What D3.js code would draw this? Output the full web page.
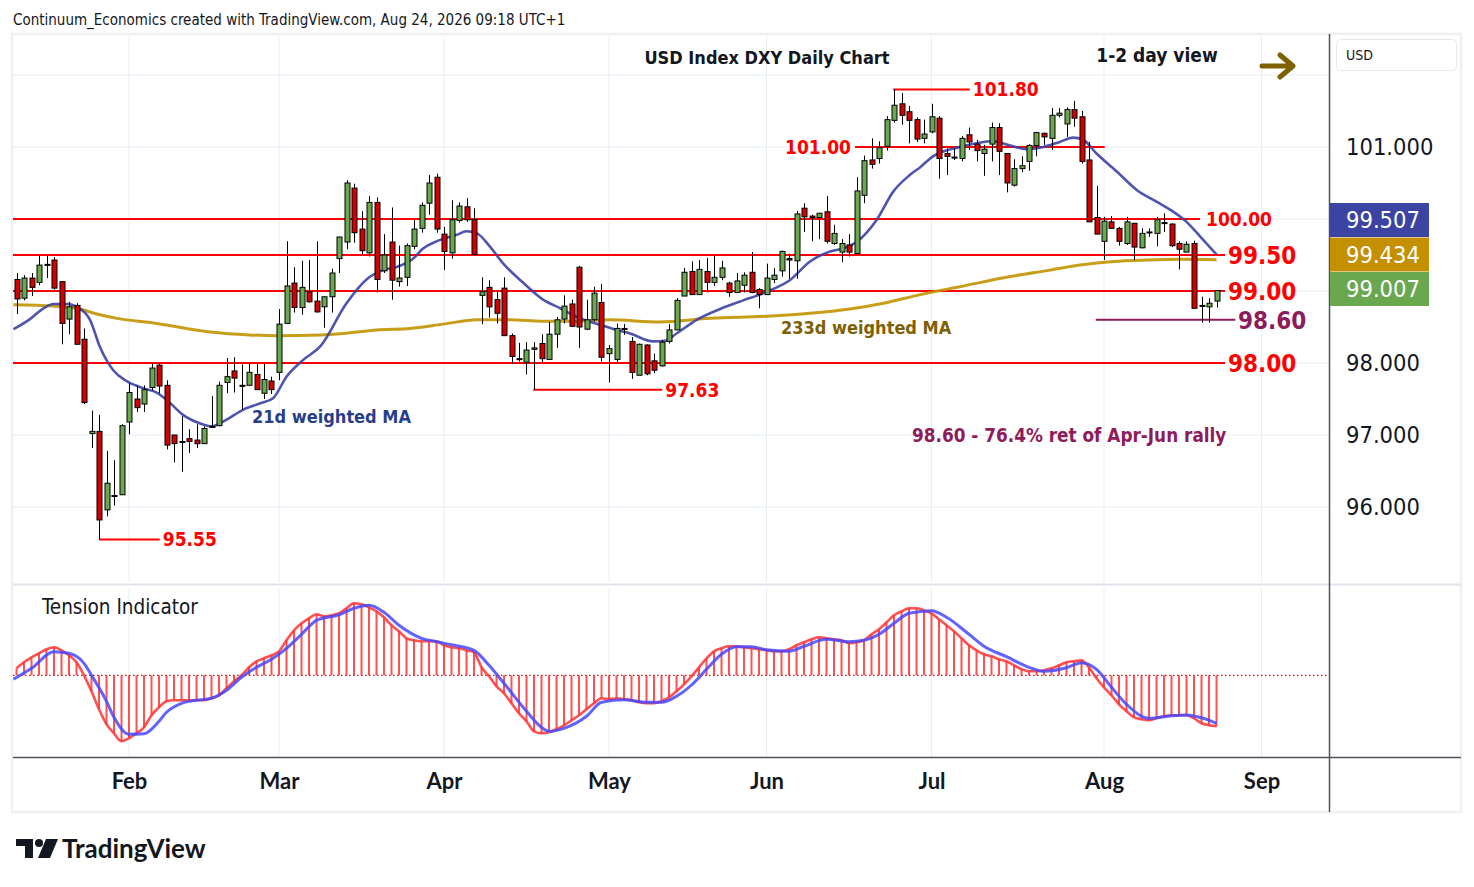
<!DOCTYPE html>
<html><head><meta charset="utf-8">
<script src="https://cdn.jsdelivr.net/npm/d3@7"></script>
<style>
html,body{margin:0;padding:0;background:#fff;}
svg{display:block;font-family:"DejaVu Sans Condensed","DejaVu Sans",sans-serif;}
</style>
</head><body>
<svg id="chart" width="1474" height="887"></svg>
<script>
// ---------- DATA ----------
// one bar per trading day, from Mon 12 Jan 2026 (bar 0) to Mon 24 Aug 2026 (bar 160)
const opens=[99.16,98.90,99.18,99.12,99.36,99.43,99.13,98.61,98.80,98.33,
97.02,97.05,95.96,96.16,96.17,97.18,97.50,97.43,97.66,97.97,
97.69,97.00,96.91,96.95,96.93,96.88,97.11,97.13,97.73,97.89,
97.69,97.69,97.84,97.58,97.75,97.87,98.55,99.11,98.77,98.99,
98.86,98.78,98.92,99.45,99.68,100.43,99.86,99.53,100.23,99.28,
99.68,99.13,99.19,99.62,99.87,100.22,100.58,99.79,99.53,99.98,
100.17,99.99,98.94,99.05,98.88,99.04,98.38,98.06,98.01,98.19,
98.27,98.05,98.40,98.61,98.82,99.33,98.47,98.60,98.84,98.13,
98.05,98.48,98.30,97.83,98.25,98.03,97.96,98.30,98.46,98.93,
99.27,98.95,99.27,99.12,99.19,99.11,98.98,99.08,99.26,99.02,
98.95,99.16,99.28,99.45,99.42,100.15,100.04,100.02,100.10,99.66,
99.54,99.64,99.52,100.33,100.82,100.84,101.01,101.37,101.60,101.49,
101.38,101.12,101.21,101.40,100.91,100.86,100.84,101.17,101.04,100.91,
101.04,101.27,100.91,100.47,100.70,100.80,101.02,101.19,101.12,101.44,
101.32,101.52,101.42,100.82,100.02,99.69,99.96,99.87,99.66,99.94,
99.60,99.82,99.80,99.95,99.93,99.66,99.54,99.66,98.80,98.78,
98.86];
const highs=[99.25,99.22,99.25,99.49,99.49,99.47,99.14,98.85,98.83,98.48,
97.34,97.28,96.78,96.65,97.15,97.72,97.69,97.69,98.00,98.00,
97.76,97.00,97.26,97.08,97.15,97.12,97.54,97.74,98.07,98.08,
97.98,98.00,97.99,97.99,97.81,98.75,99.69,99.33,99.42,99.43,
99.69,98.92,99.31,99.75,100.54,100.49,100.11,100.32,100.30,99.79,
100.16,99.63,99.66,99.99,100.23,100.61,100.63,99.89,100.26,100.23,
100.29,100.15,99.19,99.15,98.99,99.19,98.41,98.28,98.29,98.29,
98.40,98.57,98.64,98.94,98.88,99.35,98.88,99.06,99.10,98.25,
98.55,98.54,98.36,98.27,98.26,98.13,98.32,98.54,98.90,99.32,
99.41,99.43,99.46,99.49,99.42,99.13,99.25,99.26,99.54,99.04,
99.38,99.32,99.56,99.52,100.11,100.22,100.06,100.08,100.32,99.92,
99.72,99.79,100.58,100.88,101.12,101.08,101.43,101.80,101.75,101.57,
101.41,101.38,101.60,101.43,100.98,100.98,101.15,101.27,101.10,101.03,
101.34,101.33,100.91,100.83,100.87,101.04,101.21,101.20,101.54,101.54,
101.55,101.64,101.50,101.07,100.46,100.03,100.04,99.89,100.03,99.94,
99.87,99.87,100.03,100.08,99.94,99.69,99.69,99.70,98.92,98.90,
99.01];
const lows=[98.68,98.87,98.93,99.08,99.18,99.02,98.26,98.40,98.26,97.43,
96.82,95.55,95.87,96.02,96.17,97.01,97.32,97.32,97.62,97.58,
96.80,96.62,96.49,96.75,96.82,96.88,97.10,97.12,97.58,97.59,
97.35,97.69,97.63,97.50,97.57,97.76,98.55,98.70,98.67,98.84,
98.70,98.49,98.70,99.25,99.58,99.67,99.51,99.48,98.98,99.25,
98.88,99.06,99.07,99.58,99.81,100.06,99.81,99.29,99.45,99.95,
99.96,99.51,98.54,98.63,98.55,98.38,97.99,98.02,97.84,97.63,
98.01,98.05,98.21,98.55,98.50,98.21,98.46,98.58,98.02,97.73,
97.99,98.39,97.78,97.83,97.83,97.86,97.95,98.27,98.46,98.93,
98.95,98.95,98.98,99.07,99.15,98.92,98.98,98.98,98.97,98.76,
98.95,99.11,99.20,99.17,99.17,99.82,99.69,99.72,99.66,99.64,
99.40,99.48,99.52,100.22,100.70,100.77,100.95,101.34,101.31,101.05,
101.07,101.05,101.19,100.56,100.61,100.82,100.80,100.96,100.80,100.60,
100.80,100.61,100.37,100.45,100.65,100.67,100.87,101.03,100.96,101.41,
101.14,101.28,100.77,99.96,99.79,99.43,99.87,99.63,99.64,99.43,
99.59,99.75,99.62,99.82,99.61,99.30,99.54,98.76,98.56,98.56,
98.77];
const closes=[98.89,99.18,99.05,99.36,99.37,99.04,98.55,98.78,98.26,97.45,
97.05,95.82,96.33,96.15,97.13,97.59,97.38,97.63,97.93,97.68,
96.86,96.88,96.91,96.91,96.88,97.09,97.12,97.69,97.81,97.79,
97.69,97.87,97.63,97.77,97.63,98.54,99.07,98.77,99.05,98.85,
98.71,98.92,99.25,99.75,100.50,99.81,99.56,100.23,99.16,99.50,
99.15,99.18,99.63,99.86,100.19,100.50,99.86,99.55,99.99,100.18,
99.99,99.51,98.99,98.78,98.69,98.38,98.09,98.05,98.18,98.21,
98.06,98.40,98.60,98.79,98.51,98.50,98.60,98.97,98.08,98.20,
98.48,98.47,97.87,98.26,97.85,97.90,98.29,98.46,98.87,99.26,
98.95,99.30,99.12,99.19,99.32,98.98,99.14,99.22,98.98,98.95,
99.18,99.22,99.55,99.43,100.07,100.03,100.02,100.08,99.69,99.80,
99.66,99.54,100.39,100.81,100.76,100.99,101.38,101.58,101.44,101.37,
101.11,101.18,101.42,100.84,100.87,100.86,101.12,101.07,100.95,100.97,
101.27,100.94,100.50,100.70,100.74,101.02,101.20,101.14,101.44,101.47,
101.52,101.40,100.80,99.96,99.79,99.97,99.87,99.69,99.96,99.61,
99.80,99.82,99.99,99.95,99.63,99.58,99.65,98.76,98.80,98.83,
99.007];

// 21d weighted MA (bar index, value)
const ma21Idx=[-0.4,1.8,3.6,4.9,6.9,8,9.8,11.1,12.9,14.5,16.9,18.7,20,22.2,24.5,26,27.6,30.2,32.5,34.2,36,38.2,40.5,
44,46.9,48.9,50.9,52.9,54.2,56,58.7,60,61.4,63.1,64.9,67.6,70.2,72.5,74.7,77.8,80,
81.8,84.9,86.5,88,90.7,93.8,96.9,99.1,100.5,103.1,105.8,108.5,110.2,112,114.7,116.9,119.1,120.5,
122.2,125.8,130.2,132.5,134.7,136.9,139.1,140.9,142.2,144,146.7,149.4,152,153.8,156,157.8,160];
const ma21Val=[98.47,98.61,98.76,98.82,98.82,98.78,98.60,98.23,97.90,97.76,97.65,97.59,97.49,97.28,97.16,97.12,97.19,97.35,97.44,97.51,97.81,98.04,98.23,
98.83,99.18,99.29,99.34,99.45,99.59,99.69,99.78,99.83,99.80,99.62,99.38,99.11,98.88,98.76,98.64,98.53,98.46,
98.41,98.30,98.31,98.41,98.60,98.75,98.87,98.95,99.01,99.15,99.41,99.55,99.59,99.68,99.99,100.38,100.61,100.72,
100.87,101.00,101.08,101.02,100.97,101.00,101.07,101.13,101.10,100.91,100.66,100.40,100.24,100.13,99.96,99.76,99.507];

// 233d weighted MA (bar index, value)
const ma233Idx=[-0.4,4.9,8,10.7,13.4,18.7,25.8,31.1,34.7,40.5,43.6,48,52.5,56.9,61.4,65.8,70.2,74.7,79.1,85.8,92.5,100,105.8,111.1,115.6,120.5,125.8,132.5,137.8,141.8,146.3,150.7,155.1,160];
const ma233Val=[98.81,98.79,98.76,98.68,98.62,98.55,98.43,98.39,98.38,98.39,98.41,98.46,98.48,98.54,98.60,98.60,98.58,98.58,98.60,98.57,98.62,98.65,98.69,98.75,98.83,98.95,99.06,99.20,99.29,99.36,99.41,99.43,99.44,99.434];

// Tension indicator: fast line (one value per bar) and signal line (bar index, value)
const tensionFast=[0.7,1.3,1.8,2.2,2.6,2.8,2.5,2.0,1.3,0.0,
-1.6,-3.4,-4.9,-5.8,-6.6,-6.3,-5.8,-5.2,-4.0,-3.2,
-2.6,-2.5,-2.5,-2.5,-2.5,-2.5,-2.3,-2.0,-1.3,-0.6,
0.0,0.8,1.4,1.7,2.0,2.4,3.5,4.5,5.2,5.7,
6.1,5.9,6.0,6.2,6.7,7.2,7.1,6.8,6.4,5.8,
5.0,4.4,3.7,3.5,3.4,3.4,3.4,3.0,2.8,2.7,
2.5,2.3,0.8,-0.1,-1.1,-1.8,-2.8,-3.8,-4.6,-5.6,
-5.8,-5.7,-5.4,-5.0,-4.5,-4.0,-3.4,-2.8,-2.3,-2.4,
-2.3,-2.4,-2.5,-2.7,-2.8,-2.8,-2.6,-2.2,-1.6,-0.9,
-0.1,0.8,1.7,2.4,2.7,2.9,2.9,2.8,2.7,2.6,
2.5,2.4,2.4,2.6,3.0,3.3,3.6,3.8,3.7,3.6,
3.5,3.2,3.3,3.5,4.1,4.6,5.3,6.0,6.4,6.7,
6.7,6.5,6.2,5.6,5.0,4.4,3.7,3.0,2.5,2.1,
1.9,1.6,1.4,1.0,0.6,0.4,0.4,0.5,0.7,1.0,
1.3,1.4,1.5,0.8,-0.3,-1.2,-2.0,-2.9,-3.6,-4.2,
-4.4,-4.5,-4.3,-4.1,-4.0,-4.0,-4.0,-4.3,-4.8,-5.0,
-5.1];
const tensionSigIdx=[-0.4,2,5,7,9,10,12,13,15,17,19,20,22,24,26,28,30,32,34,36,38,40,43,45,47,49,51,54,56,58,61,63,65,68,70,71,73,76,78,81,84,86,88,90,92,94,96,98,100,103,105,108,111,113,115,117,119,122,124,127,129,132,135,137,140,142,144,146,148,151,154,156,158,160];
const tensionSigVal=[-0.4,0.7,2.36,2.2,1.2,0.0,-2.6,-4.2,-5.9,-5.85,-4.6,-3.7,-2.8,-2.5,-2.3,-1.5,-0.2,0.8,1.6,2.7,4.1,5.5,6.05,6.7,7.0,6.3,5.0,3.7,3.36,3.05,2.5,1.0,-0.8,-3.6,-5.2,-5.6,-5.3,-4.1,-2.7,-2.45,-2.7,-2.7,-2.1,-0.97,0.6,2.1,2.85,2.86,2.55,2.4,2.9,3.6,3.36,3.5,4.1,5.2,6.2,6.46,5.8,4.1,2.9,1.86,0.8,0.4,0.75,1.26,0.6,-1.2,-2.9,-4.3,-4.05,-3.97,-4.25,-4.8];

// Axis ticks
const monthLabels=["Feb","Mar","Apr","May","Jun","Jul","Aug","Sep"];
const monthIdx=[15,35,57,79,100,122,145,166];
const gridPrices=[96,97,98,99,100,101,102];
const priceTicks=[96,97,98,101];   // the 99 / 100 labels sit under the last-value tags
// Support / resistance levels
const levelValues=[100.00,99.50,99.00,98.00];
const levelLabels=["100.00","99.50","99.00","98.00"];

// ---------- DRAWING ----------
const svg=d3.select("#chart");
const L=13, R=1329, MT=36, MB=582, TT=588, TB=757;
const x=d3.scaleLinear().domain([0,160]).range([16.5,1216.5]);
const y=d3.scaleLinear().domain([96,101]).range([507,147]);
const ty=d3.scaleLinear().domain([-8,8]).range([755.3,595.3]);

// frame
svg.append("rect").attr("x",12).attr("y",34).attr("width",1449).attr("height",778)
  .attr("fill","none").attr("stroke","#f0f0f0").attr("stroke-width",2.5);

const defs=svg.append("defs");
defs.append("clipPath").attr("id","mainClip").append("rect").attr("x",L).attr("y",MT).attr("width",R-L).attr("height",MB-MT);
defs.append("clipPath").attr("id","tClip").append("rect").attr("x",L).attr("y",TT).attr("width",R-L).attr("height",TB-TT);

// gridlines
const grid=svg.append("g").attr("stroke","#e6edf4").attr("stroke-width",1);
gridPrices.forEach(p=>{
  grid.append("line").attr("x1",L).attr("x2",R).attr("y1",y(p)).attr("y2",y(p));
});
monthIdx.forEach(m=>{
  grid.append("line").attr("x1",x(m)).attr("x2",x(m)).attr("y1",MT).attr("y2",MB);
  grid.append("line").attr("x1",x(m)).attr("x2",x(m)).attr("y1",TT).attr("y2",TB);
});

// pane separators
svg.append("line").attr("x1",L).attr("x2",1461).attr("y1",584.5).attr("y2",584.5).attr("stroke","#e0e3eb").attr("stroke-width",2);
svg.append("line").attr("x1",L).attr("x2",1461).attr("y1",757.5).attr("y2",757.5).attr("stroke","#50535e").attr("stroke-width",1.5);
svg.append("line").attr("x1",R+0.5).attr("x2",R+0.5).attr("y1",34).attr("y2",812).attr("stroke","#50535e").attr("stroke-width",1.5);

const main=svg.append("g").attr("clip-path","url(#mainClip)");

// support / resistance lines
levelValues.forEach((v,k)=>{
  const xe = k===0 ? 1200 : 1225;
  main.append("line").attr("x1",L).attr("x2",xe).attr("y1",y(v)).attr("y2",y(v))
    .attr("stroke","#ff0000").attr("stroke-width",2);
});
// short marker lines
const markers=[
  {v:101.80, a:116.9, b:127.1, lab:"101.80", side:"right"},
  {v:101.00, a:111.8, b:145.1, lab:"101.00", side:"left"},
  {v:97.63,  a:68.9,  b:86.1,  lab:"97.63",  side:"right"},
  {v:95.55,  a:11,    b:19.1,  lab:"95.55",  side:"right"}
];
markers.forEach(m=>{
  main.append("line").attr("x1",x(m.a)).attr("x2",x(m.b)).attr("y1",y(m.v)).attr("y2",y(m.v))
    .attr("stroke","#ff0000").attr("stroke-width",2);
});
// 98.60 retracement line
main.append("line").attr("x1",x(143.9)).attr("x2",x(162.5)).attr("y1",y(98.60)).attr("y2",y(98.60))
  .attr("stroke","#8e1b5a").attr("stroke-width",2);

// moving averages
const ma233=ma233Idx.map((d,i)=>[d,ma233Val[i]]);
const ma21=ma21Idx.map((d,i)=>[d,ma21Val[i]]);
const ln=d3.line().x(d=>x(d[0])).y(d=>y(d[1])).curve(d3.curveMonotoneX);
main.append("path").datum(ma233).attr("d",ln).attr("fill","none").attr("stroke","#c29300").attr("stroke-width",3).attr("stroke-opacity",0.9);
main.append("path").datum(ma21).attr("d",ln).attr("fill","none").attr("stroke","#3c43a6").attr("stroke-width",2.6).attr("stroke-opacity",0.9);

// candles
const bars=d3.range(opens.length).map(i=>({i,o:opens[i],h:highs[i],l:lows[i],c:closes[i]}));
const cg=main.append("g");
cg.selectAll("line.wick").data(bars).join("line").attr("class","wick")
  .attr("x1",d=>Math.round(x(d.i))+0.5).attr("x2",d=>Math.round(x(d.i))+0.5)
  .attr("y1",d=>y(d.h)).attr("y2",d=>y(d.l)).attr("stroke","#000").attr("stroke-width",1);
cg.selectAll("rect.body").data(bars).join("rect").attr("class","body")
  .attr("x",d=>Math.round(x(d.i))-2)
  .attr("width",5)
  .attr("y",d=>y(Math.max(d.o,d.c)))
  .attr("height",d=>Math.max(1,Math.abs(y(d.o)-y(d.c))))
  .attr("fill",d=>d.c>=d.o?"#6aa84f":"#d40000")
  .attr("stroke","#000").attr("stroke-width",1);

// level labels
const lab=svg.append("g").attr("font-weight","bold");
lab.append("text").attr("x",1206).attr("y",y(100)+7).attr("font-size",19).attr("fill","#ff0000").text(levelLabels[0]);
levelValues.slice(1).forEach((v,k)=>{
  lab.append("text").attr("x",1228).attr("y",y(v)+9).attr("font-size",24).attr("fill","#ff0000").text(levelLabels[k+1]);
});
markers.forEach(m=>{
  const t=lab.append("text").attr("font-size",19).attr("fill","#ff0000").attr("y",y(m.v)+7).text(m.lab);
  if(m.side==="right") t.attr("x",x(m.b)+3); else t.attr("x",x(m.a)-4).attr("text-anchor","end");
});
lab.append("text").attr("x",1238).attr("y",y(98.60)+9).attr("font-size",24).attr("fill","#8e1b5a").text("98.60");

// annotations
svg.append("text").attr("x",252).attr("y",423).attr("font-size",18).attr("font-weight","bold").attr("fill","#283e8c").text("21d weighted MA");
svg.append("text").attr("x",781).attr("y",334).attr("font-size",18).attr("font-weight","bold").attr("fill","#7f6000").text("233d weighted MA");
svg.append("text").attr("x",912).attr("y",442).attr("font-size",18.8).attr("font-weight","bold").attr("fill","#8e1b5a").text("98.60 - 76.4% ret of Apr-Jun rally");
svg.append("text").attr("x",767).attr("y",64).attr("text-anchor","middle").attr("font-size",18).attr("font-weight","bold").attr("fill","#131722").text("USD Index DXY Daily Chart");
svg.append("text").attr("x",1157).attr("y",62).attr("text-anchor","middle").attr("font-size",19).attr("font-weight","bold").attr("fill","#131722").text("1-2 day view");
// arrow
svg.append("path").attr("d","M1262,66 L1292,66 M1280,55 L1293,66 L1280,77")
  .attr("fill","none").attr("stroke","#7f6000").attr("stroke-width",5).attr("stroke-linecap","round").attr("stroke-linejoin","round");

// header text
svg.append("text").attr("x",13).attr("y",25).attr("font-size",15).attr("fill","#131722")
  .text("Continuum_Economics created with TradingView.com, Aug 24, 2026 09:18 UTC+1");

// price axis
const pa=svg.append("g").attr("transform",`translate(${R},0)`)
  .call(d3.axisRight(y).tickValues(priceTicks).tickFormat(d=>d.toFixed(3)).tickSize(0).tickPadding(17));
pa.select(".domain").remove();
pa.selectAll("text").attr("font-size",23.5).attr("fill","#131722").attr("font-family","DejaVu Sans Condensed, DejaVu Sans, sans-serif");

// last-value labels (stacked)
const lastLabels=[
  {v:ma21Val[ma21Val.length-1], col:"#3c44a3"},
  {v:ma233Val[ma233Val.length-1], col:"#c49000"},
  {v:closes[closes.length-1], col:"#6aa84f"}
];
lastLabels.forEach((d,k)=>{
  const yt=203+k*34.5;
  svg.append("rect").attr("x",1330).attr("y",yt).attr("width",99).attr("height",34).attr("fill",d.col);
  svg.append("text").attr("x",1346).attr("y",yt+25).attr("font-size",23.5).attr("fill","#ffffff").text(d.v.toFixed(3));
});

// USD box
svg.append("rect").attr("x",1336.5).attr("y",39.5).attr("width",120).attr("height",31).attr("rx",4)
  .attr("fill","#fff").attr("stroke","#e6e8ee");
svg.append("text").attr("x",1346).attr("y",60).attr("font-size",14).attr("fill","#131722").text("USD");

// ---------- Tension indicator ----------
const tg=svg.append("g").attr("clip-path","url(#tClip)");
tg.append("line").attr("x1",L).attr("x2",R).attr("y1",ty(0)).attr("y2",ty(0))
  .attr("stroke","#ff0000").attr("stroke-width",1.2).attr("stroke-dasharray","1.5,2.5");
tg.selectAll("line.hist").data(tensionFast).join("line").attr("class","hist")
  .attr("x1",(d,i)=>x(i)).attr("x2",(d,i)=>x(i)).attr("y1",ty(0)).attr("y2",d=>ty(d))
  .attr("stroke","#ff3333").attr("stroke-opacity",0.85).attr("stroke-width",2);
const tl=d3.line().x(d=>x(d[0])).y(d=>ty(d[1])).curve(d3.curveMonotoneX);
tg.append("path").datum(tensionFast.map((v,i)=>[i,v])).attr("d",tl).attr("fill","none")
  .attr("stroke","#ff3333").attr("stroke-opacity",0.85).attr("stroke-width",2.6);
tg.append("path").datum(tensionSigIdx.map((d,i)=>[d,tensionSigVal[i]])).attr("d",tl).attr("fill","none")
  .attr("stroke","#4646ff").attr("stroke-opacity",0.85).attr("stroke-width",3);
svg.append("text").attr("x",42).attr("y",614).attr("font-size",20.5).attr("fill","#131722").text("Tension Indicator");

// time axis
const ta=svg.append("g").attr("transform",`translate(0,${TB})`)
  .call(d3.axisBottom(x).tickValues(monthIdx).tickFormat((d,i)=>monthLabels[i]).tickSize(0).tickPadding(16));
ta.select(".domain").remove();
ta.selectAll("text").attr("font-size",22).attr("font-weight","bold").attr("fill","#131722").attr("font-family","Lato, Inter, sans-serif");

// TradingView logo
const lg=svg.append("g").attr("fill","#131722");
lg.append("path").attr("d","M16,839 H33 V858 H25 V846 H16 Z");
lg.append("circle").attr("cx",39).attr("cy",843).attr("r",4);
lg.append("path").attr("d","M46,839 H58 L50,858 H38 Z");
lg.append("text").attr("x",62).attr("y",858).attr("font-size",26).attr("font-weight","bold")
  .attr("font-family","Lato, Inter, sans-serif").text("TradingView");
</script>
</body></html>
